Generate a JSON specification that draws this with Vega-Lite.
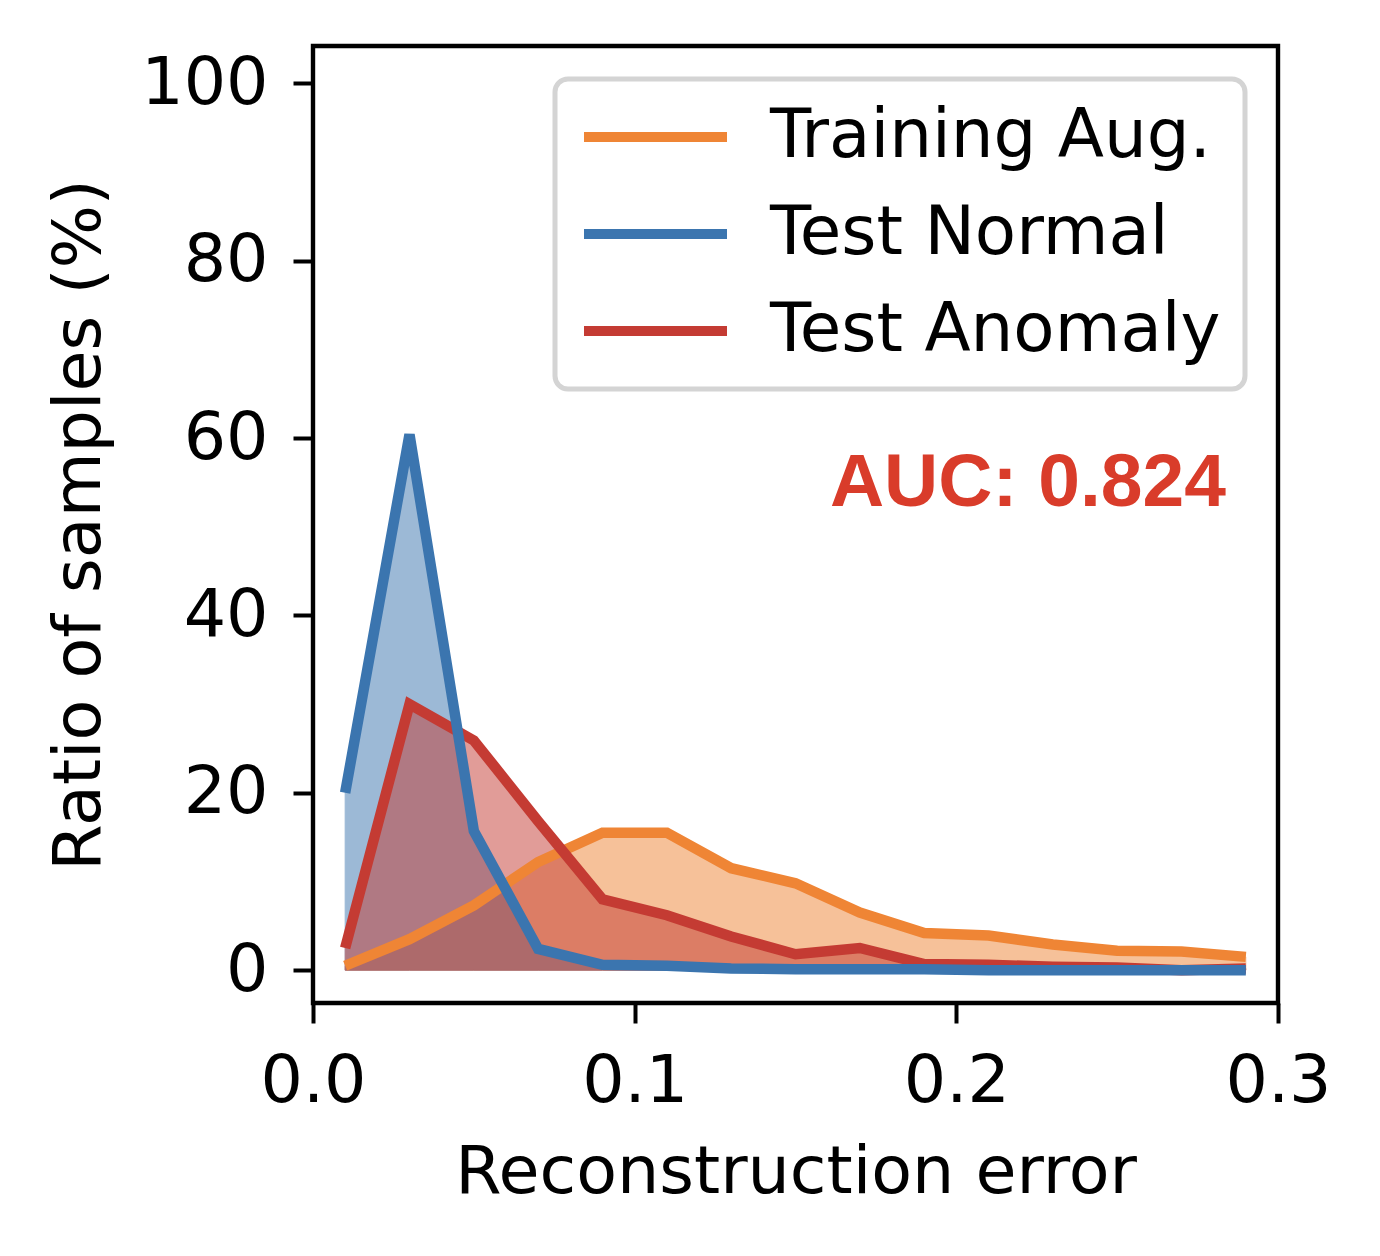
{
  "$schema": "https://vega.github.io/schema/vega-lite/v6.json",
  "width": 965,
  "height": 957,
  "autosize": {"type": "none"},
  "padding": {"left": 313, "top": 46, "right": 102, "bottom": 253},
  "background": "white",
  "config": {
    "view": {"stroke": "black", "strokeWidth": 4.4},
    "axis": {
      "grid": false,
      "domain": false,
      "ticks": true,
      "tickColor": "black",
      "tickWidth": 4,
      "tickSize": 20,
      "labelFont": "DejaVu Sans",
      "labelFontSize": 66.7,
      "labelColor": "black",
      "labelFlush": false,
      "titleFont": "DejaVu Sans",
      "titleFontSize": 66.7,
      "titleFontWeight": "normal",
      "titleColor": "black"
    }
  },
  "datasets": {
    "dist": [
      {"x": 0.01, "series": "Training Aug.", "y": 0.5},
      {"x": 0.03, "series": "Training Aug.", "y": 3.5},
      {"x": 0.05, "series": "Training Aug.", "y": 7.3},
      {"x": 0.07, "series": "Training Aug.", "y": 12.2},
      {"x": 0.09, "series": "Training Aug.", "y": 15.5},
      {"x": 0.11, "series": "Training Aug.", "y": 15.5},
      {"x": 0.13, "series": "Training Aug.", "y": 11.5},
      {"x": 0.15, "series": "Training Aug.", "y": 9.8},
      {"x": 0.17, "series": "Training Aug.", "y": 6.5},
      {"x": 0.19, "series": "Training Aug.", "y": 4.2},
      {"x": 0.21, "series": "Training Aug.", "y": 3.9},
      {"x": 0.23, "series": "Training Aug.", "y": 2.9},
      {"x": 0.25, "series": "Training Aug.", "y": 2.2},
      {"x": 0.27, "series": "Training Aug.", "y": 2.1},
      {"x": 0.29, "series": "Training Aug.", "y": 1.5},
      {"x": 0.01, "series": "Test Normal", "y": 20.0},
      {"x": 0.03, "series": "Test Normal", "y": 60.4},
      {"x": 0.05, "series": "Test Normal", "y": 15.7},
      {"x": 0.07, "series": "Test Normal", "y": 2.4},
      {"x": 0.09, "series": "Test Normal", "y": 0.6},
      {"x": 0.11, "series": "Test Normal", "y": 0.5},
      {"x": 0.13, "series": "Test Normal", "y": 0.2},
      {"x": 0.15, "series": "Test Normal", "y": 0.1},
      {"x": 0.17, "series": "Test Normal", "y": 0.1},
      {"x": 0.19, "series": "Test Normal", "y": 0.1},
      {"x": 0.21, "series": "Test Normal", "y": 0.0},
      {"x": 0.23, "series": "Test Normal", "y": 0.0},
      {"x": 0.25, "series": "Test Normal", "y": 0.0},
      {"x": 0.27, "series": "Test Normal", "y": 0.0},
      {"x": 0.29, "series": "Test Normal", "y": 0.0},
      {"x": 0.01, "series": "Test Anomaly", "y": 2.5},
      {"x": 0.03, "series": "Test Anomaly", "y": 30.0},
      {"x": 0.05, "series": "Test Anomaly", "y": 25.9},
      {"x": 0.07, "series": "Test Anomaly", "y": 16.8},
      {"x": 0.09, "series": "Test Anomaly", "y": 8.0},
      {"x": 0.11, "series": "Test Anomaly", "y": 6.2},
      {"x": 0.13, "series": "Test Anomaly", "y": 3.8},
      {"x": 0.15, "series": "Test Anomaly", "y": 1.8},
      {"x": 0.17, "series": "Test Anomaly", "y": 2.5},
      {"x": 0.19, "series": "Test Anomaly", "y": 0.7},
      {"x": 0.21, "series": "Test Anomaly", "y": 0.6},
      {"x": 0.23, "series": "Test Anomaly", "y": 0.4},
      {"x": 0.25, "series": "Test Anomaly", "y": 0.3},
      {"x": 0.27, "series": "Test Anomaly", "y": 0.0},
      {"x": 0.29, "series": "Test Anomaly", "y": 0.2}
    ],
    "note": [{"x": 0.2838, "y": 52.3, "label": "AUC: 0.824"}]
  },
  "data": {"name": "dist"},
  "encoding": {
    "x": {
      "field": "x",
      "type": "quantitative",
      "title": "Reconstruction error",
      "scale": {"domain": [0, 0.3], "nice": false, "zero": false},
      "axis": {"values": [0, 0.1, 0.2, 0.3], "format": ".1f", "labelPadding": 25, "titlePadding": 25}
    },
    "y": {
      "field": "y",
      "type": "quantitative",
      "title": "Ratio of samples (%)",
      "scale": {"domain": [-3.7, 104.2], "nice": false, "zero": false},
      "axis": {"values": [0, 20, 40, 60, 80, 100], "labelPadding": 25, "titlePadding": 27}
    }
  },
  "layer": [
    {
      "transform": [{"filter": "datum.series == 'Training Aug.'"}],
      "mark": {"type": "area", "color": "#ef8535", "opacity": 0.5, "stroke": "#ef8535", "strokeWidth": 1},
      "encoding": {"y2": {"datum": 0}}
    },
    {
      "transform": [{"filter": "datum.series == 'Test Normal'"}],
      "mark": {"type": "area", "color": "#3b75af", "opacity": 0.5, "stroke": "#3b75af", "strokeWidth": 1},
      "encoding": {"y2": {"datum": 0}}
    },
    {
      "transform": [{"filter": "datum.series == 'Test Anomaly'"}],
      "mark": {"type": "area", "color": "#c43b33", "opacity": 0.5, "stroke": "#c43b33", "strokeWidth": 1},
      "encoding": {"y2": {"datum": 0}}
    },
    {
      "transform": [{"filter": "datum.series == 'Training Aug.'"}],
      "mark": {"type": "line", "strokeWidth": 10.5, "strokeJoin": "miter", "strokeCap": "butt"},
      "encoding": {
        "color": {
          "field": "series",
          "type": "nominal",
          "scale": {
            "domain": ["Training Aug.", "Test Normal", "Test Anomaly"],
            "range": ["#ef8535", "#3b75af", "#c43b33"]
          },
          "legend": {
            "title": null,
            "orient": "top-right",
            "offset": 33,
            "symbolType": "stroke",
            "symbolSize": 20449,
            "symbolStrokeWidth": 10,
            "clipHeight": 68,
            "labelFont": "DejaVu Sans",
            "labelFontSize": 67.5,
            "labelColor": "black",
            "labelOffset": 38,
            "labelLimit": 1000,
            "rowPadding": 29,
            "padding": 24,
            "strokeColor": "#d4d4d4",
            "cornerRadius": 13,
            "fillColor": "white",
            "encode": {"legend": {"update": {"strokeWidth": {"value": 5}}}}
          }
        }
      }
    },
    {
      "transform": [{"filter": "datum.series == 'Test Anomaly'"}],
      "mark": {"type": "line", "strokeWidth": 10.5, "strokeJoin": "miter", "strokeCap": "butt"},
      "encoding": {"color": {"field": "series", "type": "nominal"}}
    },
    {
      "transform": [{"filter": "datum.series == 'Test Normal'"}],
      "mark": {"type": "line", "strokeWidth": 10.5, "strokeJoin": "miter", "strokeCap": "butt"},
      "encoding": {"color": {"field": "series", "type": "nominal"}}
    },
    {
      "data": {"name": "note"},
      "mark": {
        "type": "text",
        "align": "right",
        "baseline": "alphabetic",
        "font": "Liberation Sans",
        "fontWeight": "bold",
        "fontSize": 75,
        "color": "#d93c2a"
      },
      "encoding": {"text": {"field": "label"}}
    }
  ]
}
